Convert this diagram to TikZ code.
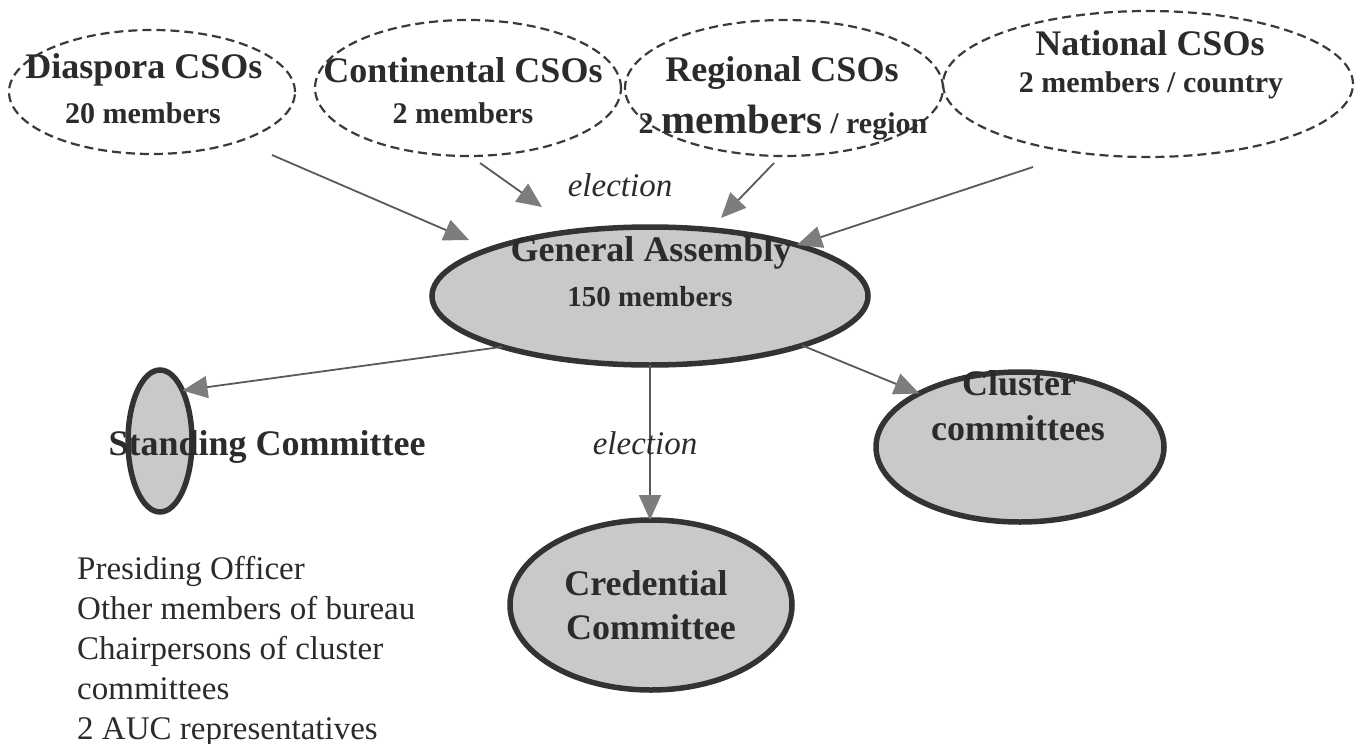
\documentclass[tikz,border=0pt]{standalone}
\usepackage{fontspec}
\setmainfont{Liberation Serif}
\usetikzlibrary{arrows.meta,shapes.geometric}
\definecolor{ink}{HTML}{2B2B2B}
\definecolor{rim}{HTML}{333333}
\definecolor{shade}{HTML}{C9C9C9}
\definecolor{wire}{HTML}{5A5A5A}
\definecolor{tipgray}{HTML}{7D7D7D}
\definecolor{dashrim}{HTML}{3A3A3A}
\begin{document}
\begin{tikzpicture}[x=1pt,y=-1pt,
  csobox/.style={ellipse, draw=dashrim, line width=2.2pt, dash pattern=on 9pt off 5pt, inner sep=0pt, outer sep=0pt},
  bodybox/.style={ellipse, draw=rim, line width=5.5pt, fill=shade, inner sep=0pt, outer sep=0pt},
  head/.style={font=\fontsize{36}{42}\selectfont\bfseries, text=ink, inner sep=0pt},
  sub/.style={font=\fontsize{30}{36}\selectfont\bfseries, text=ink, inner sep=0pt},
  vote/.style={font=\fontsize{33}{40}\selectfont\itshape, text=ink, inner sep=0pt},
  roster/.style={font=\fontsize{33}{40}\selectfont, text=ink, align=left, inner sep=0pt},
  link/.style={draw=wire, line width=1.8pt, -{Triangle[length=25pt,width=22pt,color=tipgray]}}
]
\useasboundingbox (0,0) rectangle (1363,744);

% electing bodies (dashed)
\node[csobox, minimum width=286, minimum height=124] (dia) at (152,92) {};
\node[csobox, minimum width=306, minimum height=136] (con) at (468,88) {};
\node[csobox, minimum width=318, minimum height=136] (reg) at (784,88) {};
\node[csobox, minimum width=410, minimum height=146] (nat) at (1148,84) {};

% assembly and committees
\node[bodybox, minimum width=436, minimum height=138] (ga) at (650,296) {};
\node[bodybox, minimum width=64, minimum height=142] (stand) at (160,441) {};
\node[bodybox, minimum width=288, minimum height=150] (clu) at (1020,447) {};
\node[bodybox, minimum width=282, minimum height=170] (cred) at (651,605) {};

% loose ends of the election arrows
\coordinate (diaFoot) at (272,155);
\coordinate (gaWest) at (469,240);
\coordinate (conFoot) at (480,163);
\coordinate (gaNorthWest) at (542,207);
\coordinate (regFoot) at (774,163);
\coordinate (gaNorth) at (721,218);
\coordinate (natFoot) at (1033,167);
\coordinate (gaNorthEast) at (797,245);

\draw[link] (diaFoot) -- (gaWest);
\draw[link] (conFoot) -- (gaNorthWest);
\draw[link] (regFoot) -- (gaNorth);
\draw[link] (natFoot) -- (gaNorthEast);

\draw[link] (ga.199) -- (stand.66);
\draw[link] (ga.-18) -- (clu.152);
\draw[link] (ga.south) -- (ga.south |- cred.north);

% labels
\node[head] (diaT1) at (144,70) {Diaspora CSOs};
\node[sub]  (diaT2) at (143,113) {20 members};
\node[head] (conT1) at (463,70) {Continental CSOs};
\node[sub]  (conT2) at (463,113) {2 members};
\node[head] (regT1) at (782,73) {Regional CSOs};
\node[sub]  (regT2) at (783,123) {2 {\fontsize{41}{48}\selectfont members} / region};
\node[head] (natT1) at (1150,43) {National CSOs};
\node[sub]  (natT2) at (1151,85) {2 members / country};

\node[head] (gaT1) at (651,253) {General Assembly};
\node[sub, font=\fontsize{29}{35}\selectfont\bfseries] (gaT2) at (650,297) {150 members};
\node[head] (standT) at (267,447) {Standing Committee};
\node[head] (cluT1) at (1019,383) {Cluster};
\node[head] (cluT2) at (1018,428) {committees};
\node[head] (credT1) at (646,583) {Credential};
\node[head] (credT2) at (651,627) {Committee};

\node[vote] (vote1) at (620,185) {election};
\node[vote] (vote2) at (645,443) {election};

\node[roster, anchor=north west] (members) at (77,556)
  {Presiding Officer\\Other members of bureau\\Chairpersons of cluster\\committees\\2 AUC representatives};
\end{tikzpicture}
\end{document}
